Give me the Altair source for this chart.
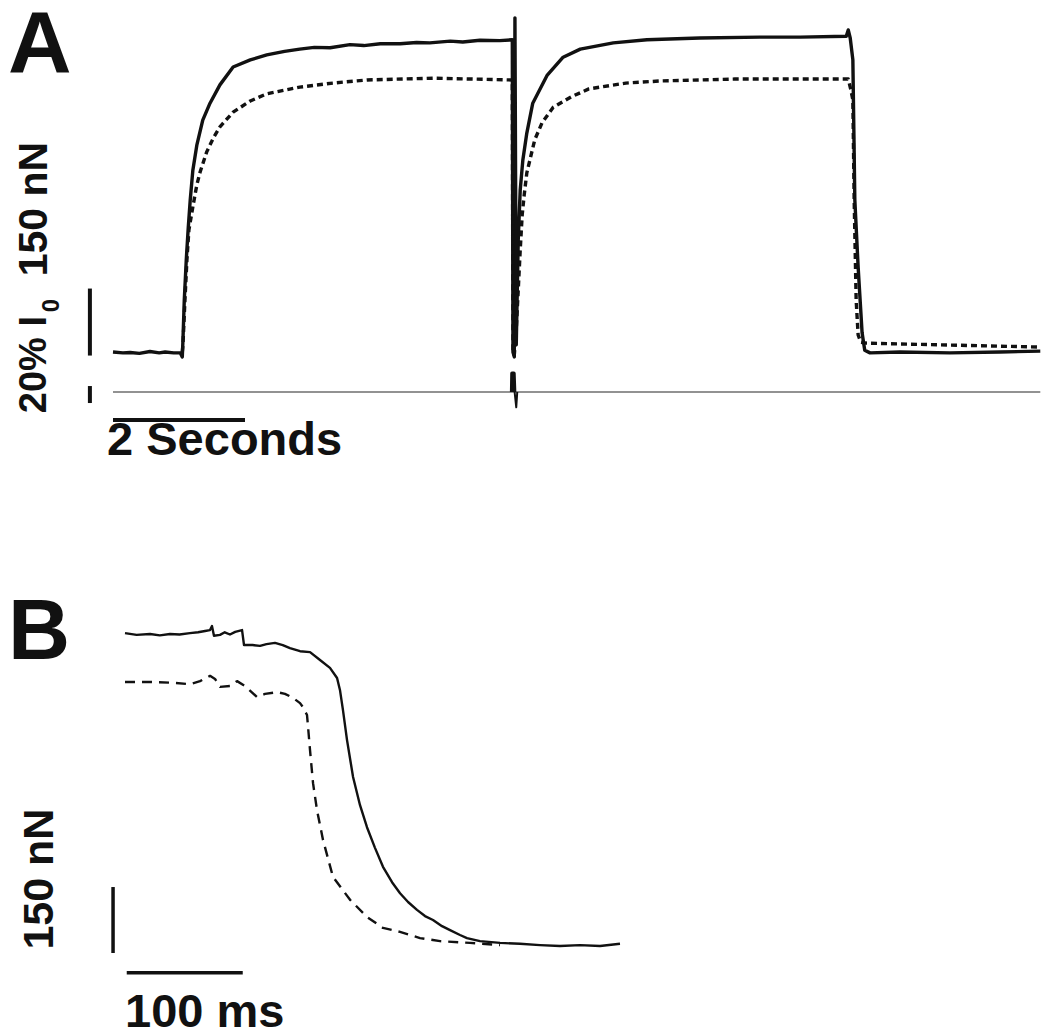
import altair as alt
import pandas as pd

# ---------------- Panel A : time (s), force (nN), length (% l0) ----------------
a_solid_t = [0.00, 0.15, 0.26, 0.40, 0.56, 0.70, 0.79, 0.92, 1.02, 1.05, 1.06, 1.08, 1.11, 1.14,
             1.17, 1.21, 1.27, 1.36, 1.47, 1.62, 1.82, 2.08, 2.33, 2.60, 2.83, 3.05, 3.29, 3.59,
             3.80, 4.05, 4.35, 4.60, 4.80, 5.11, 5.30, 5.56, 5.86, 6.05, 6.06, 6.08, 6.09,
             6.11, 6.14, 6.17, 6.21, 6.27, 6.36, 6.58, 6.82, 7.08, 7.58, 8.09, 8.89, 9.80,
             10.41, 11.11, 11.14, 11.17, 11.21, 11.24, 11.29, 11.35, 11.39, 11.47, 11.92,
             12.68, 13.44, 14.05]
a_solid_f = [0, -2, -1, -3, 1, -2, 0, -2, -2, -11, 27, 116, 206, 278,
             340, 407, 463, 519, 557, 598, 638, 654, 665, 673, 678, 682, 681, 688,
             686, 690, 690, 693, 692, 696, 694, 698, 697, 699, 0, -11, 748,
             16, 251, 363, 430, 490, 557, 620, 660, 678, 692, 699, 703, 705,
             705, 707, 721, 703, 654, 340, 190, 43, 4, -2, 0,
             -2, 0, 2]

a_dash_t = [1.05, 1.06, 1.09, 1.12, 1.15, 1.21, 1.27, 1.32, 1.42, 1.52, 1.62, 1.82, 2.08, 2.33,
            2.83, 3.33, 3.85, 4.85, 6.05, 6.06, 6.08, 6.11, 6.14, 6.17, 6.20, 6.23, 6.27, 6.39,
            6.50, 6.67, 6.94, 7.21, 7.77, 8.32, 9.42, 11.14, 11.18, 11.21, 11.23, 11.26, 11.29,
            11.33, 11.41, 11.92, 13.44, 14.05]
a_dash_f = [0, 16, 116, 206, 273, 325, 374, 403, 448, 479, 504, 537, 562, 578,
            593, 602, 609, 613, 609, 0, -7, 49, 139, 228, 307, 351, 401, 475,
            513, 548, 571, 589, 602, 607, 611, 611, 587, 564, 340, 116, 38,
            22, 20, 18, 13, 11]

# length signal (thin grey) and its release / restretch pulse (black)
a_len_t = [0.00, 14.05]
a_len_pct = [0, 0]
a_pulse_t = [6.04, 6.045, 6.075, 6.085]
a_pulse_pct = [0, 22, 22, 0]
a_pulse2_t = [6.085, 6.11, 6.125]
a_pulse2_pct = [0, -18, 0]

# scale bars (data units)
a_fbar_t, a_fbar_f0, a_fbar_f1 = [-0.35], [-8], [142]      # 150 nN
a_lbar_t, a_lbar_l0, a_lbar_l1 = [-0.35], [-13], [7]       # 20 % l0
a_tbar_t0, a_tbar_t1, a_tbar_f = [0.0], [2.0], [-152]      # 2 s

# ---------------- Panel B : time (ms), force (nN) ----------------
b_solid_t = [0.0, 10.0, 21.6, 30.0, 38.8, 47.0, 56.0, 63.0, 69.0, 73.3, 75.0, 76.7, 81.9, 86.0,
             90.5, 95.0, 100.9, 102.6, 110.0, 116.4, 122.0, 129.3, 136.0, 142.2, 150.9, 159.5,
             168.1, 176.7, 182.8, 185.3, 187.9, 191.4, 196.6,
             202.6, 208.6, 215.5, 222.4, 230.2, 237.1, 244.0, 251.7, 258.6, 265.5, 273.3,
             280.2, 288.8, 294.8, 306.0, 323.3, 340.5, 357.8, 375.0, 392.2, 409.5, 426.7]
b_solid_f = [711, 707, 709, 706, 709, 708, 711, 713, 716, 718, 727, 705, 707, 713,
             708, 714, 718, 684, 684, 682, 686, 689, 684, 677, 670, 668,
             650, 632, 609, 582, 536, 468, 384,
             320, 270, 223, 180, 145, 120, 100, 82, 68, 59, 45,
             36, 25, 18, 11, 7, 5, 2, 0, 2, 0, 5]

b_dash_t = [0.0, 21.6, 43.1, 56.0, 64.7, 73.3, 77.6, 81.9, 90.5, 96.6, 103.4, 113.8, 120.7,
            131.0, 137.9, 144.8, 150.9, 153.4, 156.9, 157.8, 159.5, 162.1, 165.5, 170.7,
            179.3, 194.0, 208.6, 222.4, 237.1, 254.3, 271.6, 297.4, 323.3]
b_dash_f = [600, 600, 598, 595, 602, 614, 607, 589, 591, 602, 591, 566, 573,
            577, 573, 564, 552, 543, 525, 498, 445, 370, 309, 241,
            157, 105, 66, 41, 32, 18, 11, 7, 2]

b_fbar_t, b_fbar_f0, b_fbar_f1 = [-10.3], [-16], [134]     # 150 nN
b_tbar_t0, b_tbar_t1, b_tbar_f = [1.5], [101.5], [-61]     # 100 ms

# ---------------- labels ----------------
a_lab_text = ["A", "150 nN", "20% I", "0", "2 Seconds"]
a_lab_t = [-1.59, -1.18, -1.18, -0.93, -0.09]
a_lab_f = [627, 320, -137, 104, -231]
b_lab_text = ["B", "150 nN", "100 ms"]
b_lab_t = [-100.86, -73.0, 0.0]
b_lab_f = [652, 152, -184]

# ---------------- layout / scales ----------------
W, HA, HB, H = 1034, 560, 1020, 1028
INK = "#111111"
FONT = "Liberation Sans"

xA = alt.Scale(domain=[-1.5909, 14.0758], range=[0, W], nice=False, zero=False)
yA = alt.Scale(domain=[-483.6, 770.1], range=[HA, 0], nice=False, zero=False)
yL = alt.Scale(domain=[-207.1, 451.8], range=[HA, 0], nice=False, zero=False)
xB = alt.Scale(domain=[-100.86, 790.5], range=[0, W], nice=False, zero=False)
yB = alt.Scale(domain=[-186.4, 859.1], range=[HB, HA], nice=False, zero=False)


def trace(t, v, xs, ys, width, dash=None, color=INK):
    df = pd.DataFrame({"t": t, "v": v, "i": range(len(t))})
    kw = dict(strokeWidth=width, color=color, strokeJoin="round", strokeCap="butt")
    if dash:
        kw["strokeDash"] = dash
    return alt.Chart(df).mark_line(**kw).encode(
        x=alt.X("t:Q", scale=xs, axis=None),
        y=alt.Y("v:Q", scale=ys, axis=None),
        order="i:Q",
    )


def vbar(t, v0, v1, xs, ys, width):
    df = pd.DataFrame({"t": t, "v0": v0, "v1": v1})
    return alt.Chart(df).mark_rule(strokeWidth=width, color=INK).encode(
        x=alt.X("t:Q", scale=xs, axis=None),
        y=alt.Y("v0:Q", scale=ys, axis=None),
        y2="v1:Q",
    )


def hbar(t0, t1, v, xs, ys, width):
    df = pd.DataFrame({"t0": t0, "t1": t1, "v": v})
    return alt.Chart(df).mark_rule(strokeWidth=width, color=INK).encode(
        x=alt.X("t0:Q", scale=xs, axis=None),
        x2="t1:Q",
        y=alt.Y("v:Q", scale=ys, axis=None),
    )


def label(text, t, v, xs, ys, size, angle=0, align="left", baseline="alphabetic"):
    df = pd.DataFrame({"label": [text], "t": [t], "v": [v]})
    return alt.Chart(df).mark_text(
        font=FONT, fontWeight="bold", fontSize=size, angle=angle,
        align=align, baseline=baseline, color=INK,
    ).encode(
        x=alt.X("t:Q", scale=xs, axis=None),
        y=alt.Y("v:Q", scale=ys, axis=None),
        text="label:N",
    )


layers = [
    # panel A
    trace(a_len_t, a_len_pct, xA, yL, 1.5, color="#6e6e6e"),
    trace(a_pulse_t, a_pulse_pct, xA, yL, 3.5),
    trace(a_pulse2_t, a_pulse2_pct, xA, yL, 2),
    trace(a_solid_t, a_solid_f, xA, yA, 3.4),
    trace(a_dash_t, a_dash_f, xA, yA, 3.4, dash=[6, 4]),
    vbar(a_fbar_t, a_fbar_f0, a_fbar_f1, xA, yA, 4),
    vbar(a_lbar_t, a_lbar_l0, a_lbar_l1, xA, yL, 4),
    hbar(a_tbar_t0, a_tbar_t1, a_tbar_f, xA, yA, 4),
    label(a_lab_text[0], a_lab_t[0], a_lab_f[0], xA, yA, 88),
    label(a_lab_text[1], a_lab_t[1], a_lab_f[1], xA, yA, 41, 270, "center", "middle"),
    label(a_lab_text[2], a_lab_t[2], a_lab_f[2], xA, yA, 38, 270, "left", "middle"),
    label(a_lab_text[3], a_lab_t[3], a_lab_f[3], xA, yA, 24, 270, "center", "middle"),
    label(a_lab_text[4], a_lab_t[4], a_lab_f[4], xA, yA, 47),
    # panel B
    trace(b_solid_t, b_solid_f, xB, yB, 2.4),
    trace(b_dash_t, b_dash_f, xB, yB, 2.4, dash=[10, 7]),
    vbar(b_fbar_t, b_fbar_f0, b_fbar_f1, xB, yB, 3.5),
    hbar(b_tbar_t0, b_tbar_t1, b_tbar_f, xB, yB, 3.5),
    label(b_lab_text[0], b_lab_t[0], b_lab_f[0], xB, yB, 86),
    label(b_lab_text[1], b_lab_t[1], b_lab_f[1], xB, yB, 43, 270, "center", "middle"),
    label(b_lab_text[2], b_lab_t[2], b_lab_f[2], xB, yB, 47),
]

chart = (
    alt.layer(*layers)
    .resolve_scale(x="independent", y="independent")
    .properties(width=W, height=H, padding=0, autosize=alt.AutoSizeParams(type="none"),
                background="white")
    .configure_view(stroke=None)
)

chart.save("out.html", embed_options={"renderer": "svg", "actions": False})
